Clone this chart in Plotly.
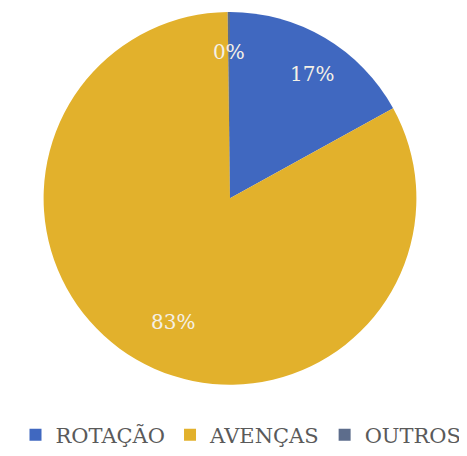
import math
import plotly.graph_objects as go

labels = ["ROTAÇÃO", "AVENÇAS", "OUTROS"]
values = [17, 83, 0.2]
colors = ["#4068c0", "#e2b12c", "#5d6d8c"]

OFF = 8  # default page body margin
W, H = 467 - OFF, 456 - OFF


def px(x):
    return (x - OFF) / W


def py(y):
    return 1 - (y - OFF) / H


fig = go.Figure(go.Pie(
    labels=labels, values=values, sort=False, direction="clockwise", rotation=0,
    marker=dict(colors=colors, line=dict(width=0)),
    textinfo="none", hoverinfo="label+percent",
    domain=dict(x=[px(42), px(418)], y=[py(389), py(12)]),
))

FONT = "DejaVu Serif, Liberation Serif, serif"
total = sum(values)
cum = 0
anns = []
R = 188
for v in values:
    mid = (cum + v / 2) / total * 2 * math.pi
    cum += v
    r = 0.86 * R
    anns.append(dict(
        x=px(230 + r * math.sin(mid)), y=py(200 - r * math.cos(mid)), xref="paper", yref="paper",
        text=f"{round(v / total * 100)}%", showarrow=False,
        font=dict(family=FONT, size=20, color="#f4f0e6"),
    ))

fig.update_layout(
    width=W, height=H,
    margin=dict(l=0, r=0, t=0, b=0),
    paper_bgcolor="white", plot_bgcolor="white",
    annotations=anns,
    legend=dict(orientation="h", x=px(241), xanchor="center", y=py(440), yanchor="middle",
                font=dict(family=FONT, size=21, color="#5a5a5a"),
                itemwidth=30, tracegroupgap=0),
)
fig.write_html("out.html")
